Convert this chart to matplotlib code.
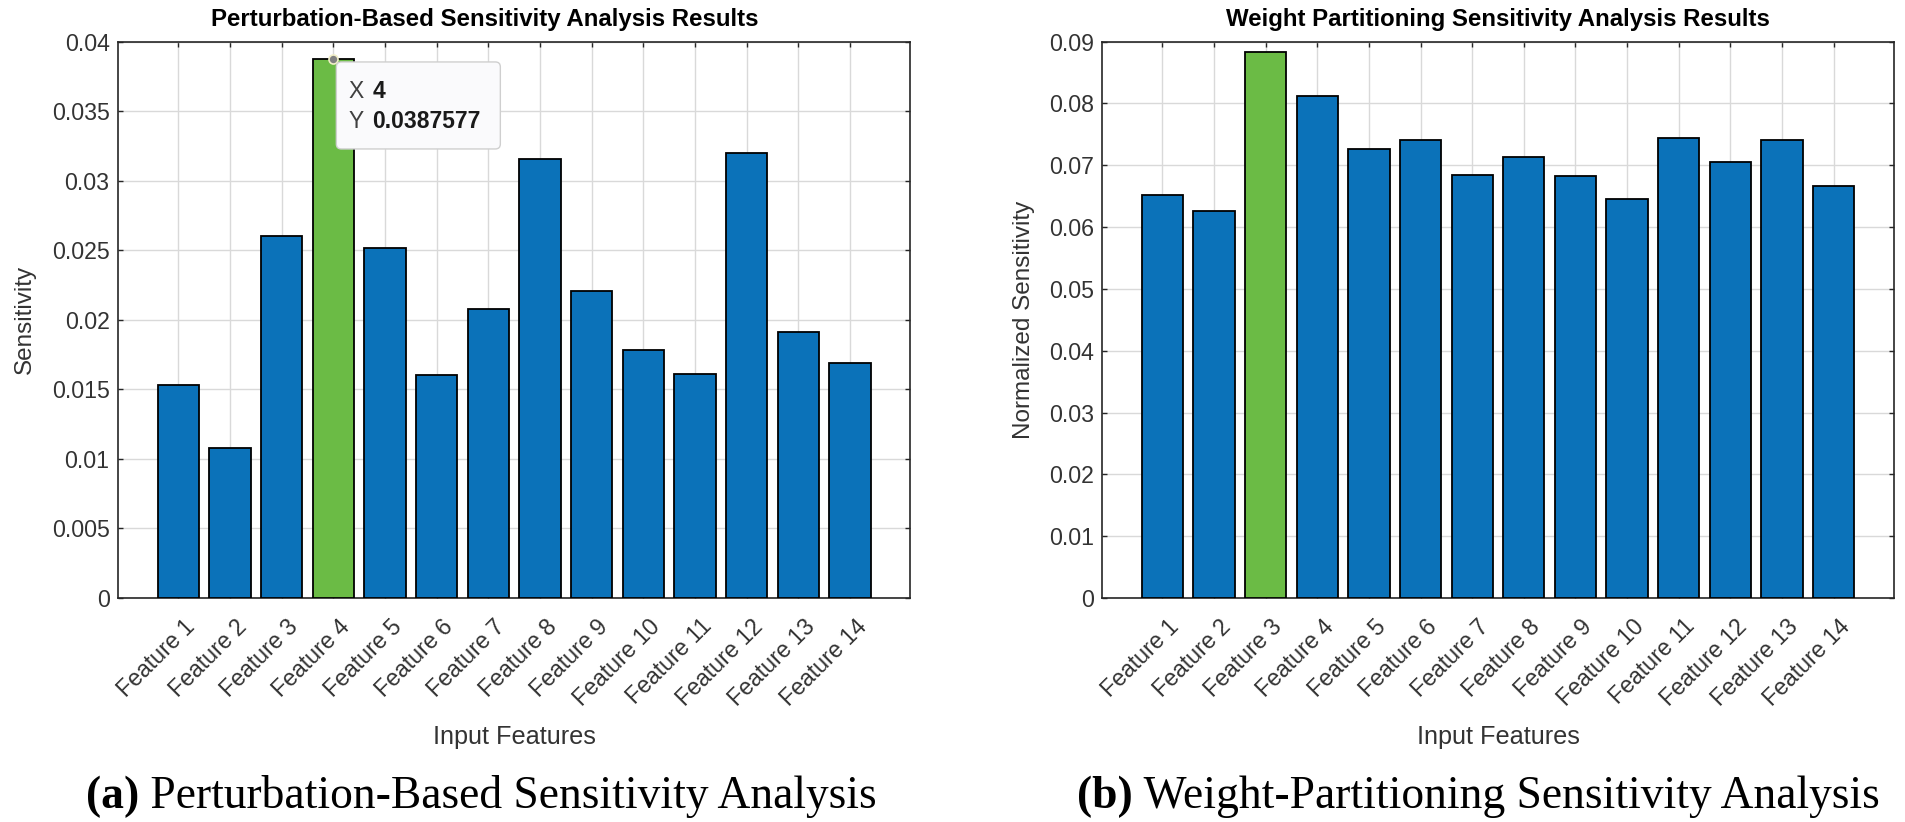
import numpy as np
import matplotlib
matplotlib.use("Agg")
import matplotlib.pyplot as plt
import matplotlib.transforms as mtransforms
from matplotlib.patches import FancyBboxPatch

plt.rcParams['font.family'] = ['Liberation Sans', 'DejaVu Sans']

# data
features = ["Feature %d" % i for i in range(1, 15)]
perturb_sens = [0.0153, 0.0108, 0.0260, 0.0387577, 0.0252, 0.0160, 0.0208,
                0.0316, 0.0221, 0.0178, 0.0161, 0.0320, 0.0191, 0.0169]
weight_sens = [0.0652, 0.0626, 0.0883, 0.0812, 0.0726, 0.0741, 0.0685,
               0.0714, 0.0682, 0.0646, 0.0744, 0.0705, 0.0741, 0.0667]
perturb_ticks = [0, 0.005, 0.01, 0.015, 0.02, 0.025, 0.03, 0.035, 0.04]
perturb_ticklabels = ["0", "0.005", "0.01", "0.015", "0.02", "0.025", "0.03", "0.035", "0.04"]
weight_ticks = [0, 0.01, 0.02, 0.03, 0.04, 0.05, 0.06, 0.07, 0.08, 0.09]
weight_ticklabels = ["0", "0.01", "0.02", "0.03", "0.04", "0.05", "0.06", "0.07", "0.08", "0.09"]

BLUE = '#0B72B9'
GREEN = '#6BBB45'
TXT = '#333333'
DPI = 100

fig = plt.figure(figsize=(19.05, 8.22), dpi=DPI)
ax1 = fig.add_axes([0.0619, 0.2725, 0.4160, 0.6768])
ax2 = fig.add_axes([0.5785, 0.2725, 0.4157, 0.6768])

x = np.arange(1, 15)


def draw(ax, vals, yticks, yticklabels, title, title_x, ylabel, ylab_x):
    vals = np.array(vals)
    colors = [BLUE] * len(vals)
    colors[int(np.argmax(vals))] = GREEN
    ax.bar(x, vals, width=0.8, color=colors, edgecolor='black', linewidth=1.3, zorder=3)
    ax.set_xlim(-0.17, 15.17)
    ax.set_ylim(yticks[0], yticks[-1])
    ax.set_yticks(yticks, yticklabels)
    ax.set_xticks(x, features, rotation=45, ha='right', va='center',
                  rotation_mode='anchor')
    ax.grid(True, color='#d9d9d9', linewidth=1.0, zorder=0)
    ax.set_axisbelow(True)
    ax.tick_params(direction='in', top=True, right=True, length=3.6, width=1,
                   color='#262626', labelsize=16.7, labelcolor=TXT)
    ax.tick_params(axis='x', pad=18)
    ax.tick_params(axis='y', pad=6)
    shift = mtransforms.ScaledTranslation(13 / DPI, 0, fig.dpi_scale_trans)
    for lab in ax.get_xticklabels():
        lab.set_transform(lab.get_transform() + shift)
    for sp in ax.spines.values():
        sp.set_color('#262626')
        sp.set_linewidth(1.2)
    t = ax.set_title(title, fontsize=17.3, fontweight='bold', pad=11)
    t.set_x(title_x)
    ax.set_ylabel(ylabel, fontsize=17.5, color=TXT, va='center')
    ax.yaxis.set_label_coords(ylab_x, 0.5)
    ax.set_xlabel("Input Features", fontsize=18.2, color=TXT, va='center')
    ax.xaxis.set_label_coords(0.5, -0.25)


draw(ax1, perturb_sens, perturb_ticks, perturb_ticklabels,
     "Perturbation-Based Sensitivity Analysis Results", 0.463, "Sensitivity", -0.117)
draw(ax2, weight_sens, weight_ticks, weight_ticklabels,
     "Weight Partitioning Sensitivity Analysis Results", 0.5, "Normalized Sensitivity", -0.098)

# data tip on the highest perturbation bar
imax = int(np.argmax(perturb_sens))
tip_x, tip_y = x[imax], perturb_sens[imax]
px, py = ax1.transData.transform((tip_x, tip_y))
tip_tr = mtransforms.Affine2D().translate(px, py)
box = FancyBboxPatch((3, -90), 164, 87, boxstyle="round,pad=0,rounding_size=5",
                     transform=tip_tr, facecolor='#FAFAFC', edgecolor='#CFCFCF',
                     linewidth=1.0, zorder=10, clip_on=False)
fig.add_artist(box)
ax1.plot(tip_x, tip_y, 'o', ms=6.5, mfc='#808080', mec='#F2EFC8', mew=1.2,
         zorder=11, clip_on=False)
fig.text(15, -33, "X", transform=tip_tr, fontsize=16.5, color='#404040', va='center', zorder=12)
fig.text(39, -33, "%d" % tip_x, transform=tip_tr, fontsize=16.5, fontweight='bold',
         color='#1a1a1a', va='center', zorder=12)
fig.text(15, -63, "Y", transform=tip_tr, fontsize=16.5, color='#404040', va='center', zorder=12)
fig.text(39, -63, "%g" % tip_y, transform=tip_tr, fontsize=16.5, fontweight='bold',
         color='#1a1a1a', va='center', zorder=12)


# sub-figure captions
def caption(xc, tag, rest):
    r = fig.canvas.get_renderer()
    t1 = fig.text(0, 0.017, tag, fontsize=32.8, fontweight='bold', family='Liberation Serif')
    t2 = fig.text(0, 0.017, " " + rest, fontsize=32.8, family='Liberation Serif')
    w1 = t1.get_window_extent(r).width
    w2 = t2.get_window_extent(r).width
    x0 = xc * fig.bbox.width - (w1 + w2) / 2
    t1.set_x(x0 / fig.bbox.width)
    t2.set_x((x0 + w1) / fig.bbox.width)


caption(0.2526, "(a)", "Perturbation-Based Sensitivity Analysis")
caption(0.776, "(b)", "Weight-Partitioning Sensitivity Analysis")

fig.savefig("out.png", dpi=DPI)
